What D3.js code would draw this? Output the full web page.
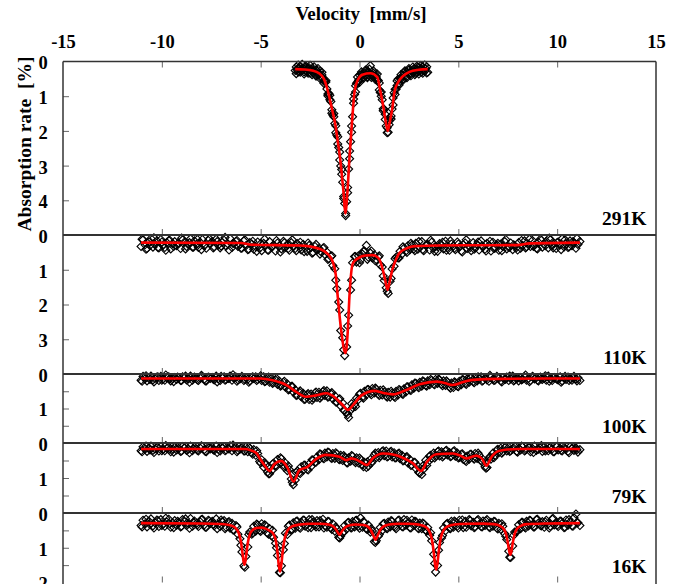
<!DOCTYPE html>
<html>
<head>
<meta charset="utf-8">
<script src="https://cdn.jsdelivr.net/npm/d3@7"></script>
<style>
  body { margin: 0; background: #fff; }
  svg { display: block; }
  text { font-family: "Liberation Serif", "Times New Roman", serif; font-weight: bold; fill: #000; }
</style>
</head>
<body>
<svg id="chart" width="682" height="584"></svg>
<script>
// ---- Mössbauer spectra at five temperatures ----
const velocityTicks = [-15, -10, -5, 0, 5, 10, 15];
const innerVelocityTicks = [-10, -5, 0, 5, 10];
const temperatures = ["291K", "110K", "100K", "79K", "16K"];
const absorptionMax = [5, 4, 2, 2, 2];
const absorptionTicks = [[1, 2, 3, 4], [1, 2, 3], [0.5, 1, 1.5], [0.5, 1, 1.5], [0.5, 1, 1.5]];
const absorptionLabels = [[0, 1, 2, 3, 4], [0, 1, 2, 3], [0, 1], [0, 1], [0, 1, 2]];

// first and last channel velocity [mm/s] of each sweep
const channelRangeA = [[-3.25, 3.45], [-11.05, 11.15], [-11.05, 11.15], [-11.05, 11.15], [-11.05, 11.15]];
const channelRangeB = [[-3.2, 3.4], [-11.0, 11.0], [-11.0, 11.0], [-11.0, 11.0], [-11.0, 11.0]];

// measured absorption [%] per channel, first sweep
const counts291 = [
0.26,0.16,0.24,0.30,0.19,0.13,0.28,0.23,0.19,0.30,
0.15,0.27,0.30,0.22,0.18,0.34,0.26,0.21,0.31,0.27,
0.37,0.24,0.28,0.38,0.36,0.28,0.46,0.39,0.48,0.57,
0.57,0.59,0.79,0.94,0.92,1.10,1.15,1.39,1.54,1.59,
1.79,1.85,2.12,2.38,2.48,2.61,3.01,3.25,3.48,3.89,
4.09,4.44,4.04,3.63,3.10,2.80,2.31,1.86,1.59,1.20,
0.95,0.70,0.63,0.60,0.54,0.39,0.51,0.37,0.39,0.45,
0.35,0.28,0.39,0.44,0.30,0.34,0.12,0.39,0.42,0.34,
0.43,0.35,0.45,0.53,0.55,0.62,0.89,1.00,1.10,1.36,
1.38,1.67,1.86,1.91,2.04,1.82,1.63,1.57,1.37,1.25,
0.90,0.80,0.80,0.69,0.51,0.62,0.49,0.50,0.53,0.40,
0.32,0.41,0.45,0.30,0.33,0.24,0.34,0.35,0.26,0.32,
0.21,0.29,0.34,0.23,0.16,0.29,0.25,0.19,0.30,0.15,
0.26,0.28,0.20,0.15,0.31];

const counts110 = [
0.33,0.14,0.28,0.39,0.20,0.10,0.35,0.27,0.17,0.37,
0.13,0.30,0.36,0.22,0.16,0.40,0.25,0.19,0.31,0.23,
0.39,0.14,0.20,0.33,0.28,0.11,0.35,0.17,0.27,0.36,
0.22,0.13,0.30,0.38,0.16,0.25,0.19,0.34,0.12,0.29,
0.37,0.21,0.15,0.32,0.26,0.10,0.36,0.24,0.18,0.33,
0.27,0.38,0.17,0.31,0.42,0.22,
0.26,0.41,0.33,0.20,0.38,0.45,0.24,0.30,0.43,0.19,
0.35,0.28,0.46,0.23,0.32,0.40,0.18,0.36,0.27,0.44,
0.22,0.34,0.39,0.25,0.31,
0.43,0.27,0.38,0.47,0.30,0.36,0.50,0.33,0.44,0.39,
0.48,0.38,0.56,0.49,0.68,0.62,0.88,0.97,1.55,1.93,
2.75,2.96,3.47,3.22,2.31,1.58,0.80,0.62,0.78,0.60,
0.72,0.55,0.46,0.30,0.64,0.52,0.66,0.57,0.71,0.63,
0.86,0.92,1.31,1.52,1.68,1.33,0.98,0.90,0.64,0.66,
0.47,0.55,0.38,0.46,0.31,0.42,0.29,0.40,
0.24,0.41,0.36,0.19,0.45,0.30,0.27,0.43,0.21,0.38,
0.33,0.47,0.25,0.29,0.40,0.18,0.36,0.44,0.26,0.32,
0.42,0.20,0.35,0.46,0.28,0.23,0.39,0.31,0.45,0.22,
0.37,0.27,0.43,0.17,0.34,0.41,0.24,0.30,0.46,0.21,
0.38,0.29,0.44,0.26,0.33,0.19,0.40,0.35,0.23,0.42,
0.31,0.36,
0.22,0.38,0.30,0.17,0.34,0.27,
0.33,0.16,0.29,0.38,0.21,0.12,0.35,0.26,0.18,0.37,
0.14,0.30,0.24,0.39,0.20,0.28,0.11,0.34,0.25,0.36,
0.17,0.31,0.22,0.38,0.27,0.19];

const counts100 = [
0.18,0.07,0.14,0.20,0.10,0.06,0.17,0.13,0.09,0.19,
0.07,0.15,0.18,0.11,0.08,0.20,0.13,0.10,0.16,0.12,
0.19,0.08,0.11,0.17,0.14,0.06,0.18,0.09,0.13,0.19,
0.12,0.07,0.15,0.20,0.09,0.13,0.10,0.17,0.06,0.14,
0.19,0.11,0.08,0.16,0.13,0.06,0.18,0.12,0.09,0.17,
0.14,0.07,0.19,0.11,0.15,0.20,0.10,0.13,0.08,0.16,
0.12,
0.19,0.08,0.21,0.13,0.24,0.12,0.25,0.17,0.30,0.21,
0.33,0.24,0.38,0.29,0.44,0.36,0.52,0.46,0.61,0.52,
0.66,0.56,0.73,0.60,0.74,0.58,0.70,0.55,0.68,0.53,
0.65,0.51,0.62,0.49,0.66,0.57,0.72,0.63,0.81,0.74,
0.93,0.84,1.06,1.12,1.26,1.05,0.97,0.88,0.70,0.74,
0.56,0.67,0.50,0.60,0.45,0.56,0.42,0.55,0.44,0.58,
0.47,0.61,0.52,0.64,0.53,0.67,0.55,0.65,0.50,0.61,
0.47,0.57,0.43,0.52,0.37,0.46,0.31,0.41,0.27,0.37,
0.24,0.35,0.22,0.33,0.20,0.31,0.18,0.29,0.16,0.27,
0.17,0.30,0.20,0.33,0.24,0.37,0.26,0.39,0.25,0.35,
0.21,0.31,0.17,0.27,0.14,0.24,0.11,0.22,
0.10,0.20,0.14,0.08,0.19,0.12,0.17,0.21,0.09,0.15,
0.18,0.07,0.13,0.20,0.11,0.16,0.09,0.19,0.14,0.06,
0.17,0.12,0.20,0.10,0.15,0.08,0.18,0.13,0.19,0.07,
0.14,0.11,0.20,0.09,0.16,0.12,0.18,0.06,0.15,0.19,
0.10,0.13,0.17,0.08,0.20,0.12,0.16,0.09,0.14,0.18,
0.07,0.15,0.11,0.19];

const counts79 = [
0.22,0.11,0.18,0.24,0.14,0.09,0.21,0.17,0.12,0.23,
0.10,0.19,0.22,0.15,0.11,0.25,0.17,0.13,0.20,0.16,
0.24,0.10,0.14,0.21,0.18,0.09,0.22,0.12,0.17,0.23,
0.15,0.10,0.19,0.25,0.12,0.17,0.13,0.21,0.09,0.18,
0.23,0.14,0.11,0.20,0.16,0.08,0.22,0.15,0.12,0.21,
0.18,0.13,
0.23,0.12,0.25,0.15,0.28,0.19,0.35,0.30,0.53,0.48,
0.69,0.62,0.83,0.88,0.79,0.58,0.64,0.47,0.58,0.45,
0.62,0.57,0.79,0.76,1.03,1.19,1.06,0.80,0.85,0.68,
0.78,0.64,0.75,0.60,0.67,0.49,0.55,0.40,0.48,0.33,
0.43,0.29,0.40,0.27,0.42,0.30,0.44,0.31,0.46,0.35,
0.50,0.41,0.56,0.42,0.52,0.38,0.53,0.42,0.57,0.47,
0.62,0.55,0.70,0.66,0.47,0.52,0.34,0.42,0.27,0.37,
0.24,0.36,0.23,0.38,0.26,0.40,0.28,0.42,0.31,0.45,
0.35,0.50,0.41,0.57,0.47,0.63,0.55,0.73,0.66,0.86,
0.90,0.74,0.49,0.55,0.37,0.44,0.29,0.38,0.25,0.37,
0.25,0.36,0.23,0.34,0.27,0.37,0.24,0.38,0.29,0.41,
0.32,0.47,0.50,0.37,0.46,0.32,0.43,0.30,0.44,0.35,
0.50,0.47,0.68,0.70,0.44,0.46,0.29,0.36,0.20,0.28,
0.15,0.25,0.13,0.23,
0.12,0.22,0.18,0.10,0.24,0.15,0.20,0.11,0.23,0.17,
0.13,0.25,0.16,0.09,0.21,0.18,0.14,0.24,0.11,0.19,
0.22,0.12,0.17,0.25,0.10,0.20,0.15,0.23,0.13,0.18,
0.24,0.11,0.16,0.21,0.14,0.26,0.19];

const counts16 = [
0.36,0.21,0.31,0.40,0.24,0.17,0.37,0.28,0.20,0.39,
0.19,0.33,0.38,0.26,0.18,0.41,0.29,0.22,0.35,0.27,
0.40,0.19,0.25,0.36,0.31,0.16,0.38,0.23,0.30,0.39,
0.26,0.18,0.34,0.41,0.21,0.30,0.24,0.37,0.17,0.33,
0.39,0.25,
0.22,0.41,0.27,0.44,0.30,0.49,0.36,0.61,0.74,1.12,
1.52,1.25,0.98,0.55,0.61,0.38,0.52,0.35,0.50,0.31,
0.47,0.36,0.58,0.45,0.66,0.70,0.87,1.22,1.71,1.52,
1.06,0.58,0.62,0.35,0.47,0.28,0.44,0.23,0.41,
0.27,0.20,0.38,0.33,0.19,0.42,0.26,0.35,0.22,0.40,0.29,0.18,0.37,
0.41,0.25,0.43,0.31,0.52,0.46,0.70,0.66,0.57,0.36,
0.46,0.27,0.42,0.25,0.40,0.21,0.38,0.14,0.41,0.27,
0.46,0.35,0.55,0.52,0.82,0.80,0.67,0.42,0.50,0.30,
0.44,0.26,
0.40,0.24,0.37,0.45,0.22,0.33,0.39,0.19,0.35,0.28,
0.42,0.20,0.36,0.25,0.43,0.29,0.45,0.31,0.50,0.42,
0.64,0.80,1.19,1.70,1.51,0.85,0.72,0.43,0.51,0.30,
0.44,0.24,0.41,0.26,
0.38,0.21,0.35,0.42,0.24,0.30,0.19,0.37,0.27,0.40,0.22,0.33,
0.39,0.23,0.36,0.19,0.40,0.27,0.38,0.25,0.43,0.30,
0.47,0.38,0.60,0.76,1.10,1.28,0.95,0.55,0.53,0.34,
0.45,0.27,0.40,0.24,
0.37,0.22,0.33,0.40,0.19,0.29,0.36,0.25,0.41,0.21,
0.31,0.38,0.17,0.34,0.27,0.39,0.23,0.30,0.42,0.20,
0.35,0.26,0.37,0.14,0.03,0.28,0.36];

// measured absorption [%] per channel, second sweep
const counts291b = [
0.35,0.10,0.31,0.08,0.36,0.14,0.34,0.11,0.38,0.15,
0.42,0.20,0.49,0.31,0.63,0.55,0.99,0.97,1.49,1.50,
2.05,2.17,2.84,3.11,3.95,4.38,3.78,2.58,2.04,1.08,
0.88,0.45,0.60,0.30,0.49,0.25,0.47,0.22,0.46,0.27,
0.52,0.36,0.82,0.88,1.42,1.52,2.05,1.70,1.66,1.05,
0.95,0.56,0.68,0.38,0.54,0.27,0.47,0.20,0.41,0.16,
0.38,0.14,0.36,0.12,0.34,0.10,0.33];

const counts110b = [
0.12,0.41,0.30,0.08,0.36,0.20,0.44,0.15,0.33,0.26,
0.09,0.40,0.22,0.35,0.13,0.42,0.28,0.11,0.37,0.19,
0.32,0.07,0.43,0.24,0.16,
0.38,0.14,0.41,
0.18,0.47,0.25,0.12,0.44,0.33,0.16,0.49,0.22,0.39,0.14,0.45,
0.21,
0.48,0.23,0.52,0.27,0.55,0.36,0.70,0.60,1.30,2.16,
3.30,2.62,1.30,0.62,0.80,0.47,0.70,0.46,0.74,0.60,
1.18,1.62,1.25,0.68,0.66,0.34,0.50,0.24,0.45,
0.19,0.42,0.28,0.15,0.47,0.33,0.21,0.44,0.17,0.38,
0.26,0.49,0.14,0.36,0.41,0.20,0.31,0.46,0.18,0.39,
0.24,0.45,0.13,0.35,0.28,0.43,0.16,0.37,0.12,0.33,
0.40,0.15,0.31,0.09,0.37,0.22,0.42,0.14,0.34,0.19,0.10];

const counts100b = [
0.21,0.05,0.16,0.23,0.08,0.18,0.03,0.14,0.22,0.09,
0.19,0.06,0.24,0.12,0.17,0.04,0.20,0.10,0.15,0.23,
0.07,0.18,0.13,0.02,0.21,0.11,0.16,0.24,0.08,0.19,
0.05,0.22,0.09,0.27,0.13,0.35,0.21,0.46,0.36,0.62,
0.49,0.74,0.57,0.76,0.52,0.70,0.48,0.67,0.54,0.81,
0.72,1.05,1.18,0.86,0.94,0.59,0.70,0.45,0.60,0.41,
0.62,0.46,0.67,0.50,0.68,0.45,0.59,0.37,0.48,0.26,
0.40,0.20,0.35,0.16,0.31,0.15,0.34,0.20,0.41,0.23,
0.37,0.16,0.30,0.11,0.25,
0.08,0.21,0.13,0.04,0.19,0.10,0.23,0.15,0.06,0.20,
0.12,0.17,0.03,0.22,0.09,0.18,0.14,0.05,0.21,0.11,
0.16,0.24,0.07,0.19,0.12,0.20];

const counts79b = [
0.25,0.09,0.20,0.27,0.12,0.22,0.07,0.18,0.26,0.13,
0.23,0.10,0.28,0.16,0.21,0.08,0.24,0.14,0.19,0.27,
0.11,0.22,0.17,0.06,0.25,0.15,
0.23,0.12,0.32,0.22,0.57,0.56,0.88,0.60,0.66,0.42,
0.70,0.66,1.12,0.84,0.87,0.63,0.77,0.48,0.55,0.31,
0.45,0.26,0.44,0.28,0.48,0.36,0.57,0.36,0.56,0.43,
0.68,0.54,0.57,0.29,0.42,0.22,0.40,0.24,0.43,0.29,
0.51,0.39,0.64,0.55,0.84,0.66,0.64,0.35,0.43,0.23,
0.40,0.21,0.39,0.22,0.43,0.31,0.53,0.32,0.46,0.29,
0.54,0.72,0.39,0.42,0.18,0.29,
0.11,0.24,0.15,0.26,0.09,0.20,0.13,0.27,0.18,0.07,
0.23,0.14,0.25,0.10,0.21,0.16,0.28,0.12,0.19];

const counts16b = [
0.40,0.18,0.33,0.43,0.22,0.36,0.15,0.31,0.42,0.24,
0.38,0.17,0.44,0.27,0.34,0.19,0.41,0.23,0.32,0.45,
0.20,0.45,0.25,0.49,0.40,0.93,1.56,0.62,0.58,0.32,
0.53,0.34,0.61,0.50,1.00,1.72,0.88,0.38,0.48,0.24,
0.44,0.21,0.42,0.19,0.40,0.22,0.43,0.24,0.47,0.40,
0.72,0.55,0.28,0.43,0.22,0.44,0.25,0.47,0.45,0.85,
0.62,0.31,0.45,0.22,0.41,0.20,0.40,0.21,0.43,0.24,
0.45,0.29,0.52,0.57,1.45,1.07,0.65,0.32,0.45,0.23,
0.43,0.20,0.41,0.22,0.42,0.19,0.40,0.23,0.42,0.24,
0.46,0.31,0.67,1.27,0.64,0.51,0.27,0.43,
0.21,0.40,0.18,0.37,0.26,0.43,0.16,0.35,0.24,0.41,
0.19,0.38,0.27];

// fitted curves: [velocity mm/s, absorption %]
const fit291 = [[-3.25,0.22],[-2.8,0.23],[-2.4,0.26],[-2.05,0.34],[-1.8,0.50],[-1.6,0.85],[-1.4,1.35],
  [-1.22,1.83],[-1.1,2.3],[-0.98,2.79],[-0.88,3.35],[-0.81,3.75],[-0.72,4.38],[-0.61,3.75],[-0.51,2.79],
  [-0.39,1.83],[-0.25,0.87],[-0.1,0.55],[0.15,0.38],[0.55,0.34],[0.9,0.45],[1.06,0.87],[1.22,1.35],
  [1.33,1.75],[1.43,2.0],[1.53,1.75],[1.66,1.35],[1.77,0.87],[1.95,0.6],[2.2,0.42],[2.53,0.30],
  [3.0,0.24],[3.45,0.22]];

const fit110 = [[-11.05,0.22],[-6.0,0.23],[-5.5,0.28],[-3.0,0.30],[-2.0,0.40],[-1.6,0.55],[-1.35,0.78],
  [-1.2,1.15],[-1.10,1.78],[-0.93,2.73],[-0.71,3.40],[-0.59,2.73],[-0.51,1.78],[-0.34,0.82],[-0.1,0.68],
  [0.3,0.59],[0.66,0.58],[0.95,0.66],[1.18,1.0],[1.30,1.3],[1.42,1.58],[1.54,1.3],[1.66,1.0],[1.85,0.70],
  [2.02,0.52],[2.4,0.38],[2.8,0.32],[4.0,0.30],[8.0,0.29],[8.6,0.24],[11.15,0.22]];

const fit100 = [[-11.05,0.13],[-5.0,0.13],[-4.4,0.18],[-3.7,0.32],[-3.2,0.52],[-2.7,0.66],[-2.2,0.62],
  [-1.69,0.56],[-1.2,0.70],[-0.85,0.90],[-0.59,1.04],[-0.3,0.88],[0.1,0.62],[0.76,0.49],[1.2,0.55],
  [1.69,0.59],[2.3,0.48],[3.04,0.30],[3.88,0.22],[4.3,0.26],[4.72,0.32],[5.2,0.24],[5.72,0.17],
  [7.0,0.14],[11.15,0.13]];

const fit79 = [[-11.05,0.17],[-5.8,0.17],[-5.5,0.21],[-5.2,0.30],[-5.0,0.48],[-4.75,0.68],[-4.56,0.80],
  [-4.3,0.60],[-3.97,0.51],[-3.63,0.72],[-3.34,1.10],[-3.04,0.78],[-2.63,0.68],[-2.2,0.46],[-1.69,0.34],
  [-1.01,0.39],[-0.67,0.49],[-0.4,0.44],[-0.25,0.46],[0.0,0.52],[0.37,0.63],[0.7,0.42],[1.18,0.30],
  [1.8,0.34],[2.19,0.42],[2.7,0.58],[3.12,0.80],[3.4,0.55],[3.88,0.32],[4.72,0.30],[5.1,0.36],
  [5.40,0.44],[5.91,0.36],[6.2,0.45],[6.41,0.65],[6.7,0.38],[7.09,0.22],[8.0,0.17],[11.15,0.17]];

const fit16 = [[-11.05,0.29],[-8.0,0.30],[-7.0,0.315],[-6.6,0.343],[-6.3,0.416],[-6.1,0.59],[-6.0,0.82],
  [-5.92,1.155],[-5.87,1.383],[-5.82,1.49],[-5.77,1.385],[-5.72,1.158],[-5.64,0.83],[-5.54,0.60],
  [-5.4,0.49],[-5.2,0.43],[-4.97,0.42],[-4.75,0.45],[-4.55,0.51],[-4.4,0.57],[-4.25,0.75],[-4.15,1.13],
  [-4.08,1.51],[-4.02,1.68],[-3.96,1.51],[-3.89,1.13],[-3.79,0.75],[-3.64,0.50],[-3.4,0.38],[-3.0,0.33],
  [-2.5,0.31],[-2.0,0.31],[-1.5,0.34],[-1.3,0.40],[-1.15,0.51],[-1.01,0.63],[-0.87,0.51],[-0.72,0.41],
  [-0.5,0.35],[-0.2,0.33],[0.2,0.345],[0.4,0.385],[0.55,0.47],[0.68,0.62],[0.81,0.77],[0.94,0.62],
  [1.07,0.47],[1.22,0.385],[1.5,0.33],[2.0,0.31],[2.5,0.31],[3.0,0.335],[3.3,0.385],[3.5,0.49],
  [3.65,0.73],[3.75,1.10],[3.82,1.47],[3.88,1.63],[3.94,1.47],[4.01,1.10],[4.11,0.73],[4.26,0.49],
  [4.46,0.385],[4.8,0.33],[5.5,0.31],[6.3,0.305],[6.8,0.32],[7.1,0.37],[7.3,0.46],[7.42,0.62],
  [7.52,0.91],[7.58,1.12],[7.63,1.20],[7.68,1.12],[7.74,0.91],[7.84,0.62],[7.96,0.46],[8.16,0.37],
  [8.46,0.32],[9.5,0.30],[11.15,0.29]];

const sweepsA = [counts291, counts110, counts100, counts79, counts16];
const sweepsB = [counts291b, counts110b, counts100b, counts79b, counts16b];
const fits = [fit291, fit110, fit100, fit79, fit16];

// ---- layout ----
const svg = d3.select("#chart");
const plotLeft = 63, plotRight = 656;
const panelEdges = [61.5, 235, 374, 443, 513, 582.5];
const axisColor = "#333";
const serif = '"Liberation Serif", "Times New Roman", serif';

const x = d3.scaleLinear().domain([-15, 15]).range([plotLeft, plotRight]);

// top velocity axis
const topAxis = svg.append("g")
  .attr("transform", `translate(0,${panelEdges[0]})`)
  .call(d3.axisTop(x).tickValues(velocityTicks).tickSizeInner(-6).tickSizeOuter(0).tickPadding(14));
topAxis.select(".domain").remove();
topAxis.selectAll(".tick line").attr("stroke", "#666")
  .filter(d => Math.abs(d) === 15).remove();
topAxis.selectAll(".tick text")
  .attr("font-size", 18.5).attr("fill", "#000")
  .attr("font-family", serif).attr("font-weight", "bold")
  .text(d => d < 0 ? "-" + Math.abs(d) : d);

svg.append("text").attr("x", 361).attr("y", 20).attr("text-anchor", "middle")
  .attr("font-size", 19).text("Velocity\u00a0\u00a0[mm/s]");

svg.append("text")
  .attr("transform", "translate(24,144) rotate(-90)")
  .attr("text-anchor", "middle").attr("dy", "0.35em")
  .attr("font-size", 19.5).text("Absorption rate\u00a0\u00a0[%]");

const marker = d3.symbol().type(d3.symbolSquare).size(32);

function drawPoints(g, counts, range, x, y) {
  const ch = d3.scaleLinear().domain([0, counts.length - 1]).range(range);
  g.append("g").selectAll("path").data(counts).join("path")
    .attr("d", marker)
    .attr("transform", (d, i) => `translate(${x(ch(i))},${y(d)}) rotate(45)`)
    .attr("fill", "none").attr("stroke", "#000").attr("stroke-width", 1.15);
}

sweepsA.forEach((counts, k) => {
  const top = panelEdges[k], bottom = panelEdges[k + 1];
  const y = d3.scaleLinear().domain([0, absorptionMax[k]]).range([top, bottom]);
  const g = svg.append("g");

  // velocity ticks on the lower edge, pointing up
  const ax = g.append("g").attr("transform", `translate(0,${bottom})`)
    .call(d3.axisBottom(x).tickValues(innerVelocityTicks).tickSizeInner(-6).tickSizeOuter(0).tickFormat(""));
  ax.select(".domain").remove();
  ax.selectAll(".tick line").attr("stroke", "#666");

  // absorption ticks along the left edge, pointing inward
  const ay = g.append("g").attr("transform", `translate(${plotLeft},0)`)
    .call(d3.axisRight(y).tickValues(absorptionTicks[k]).tickSizeInner(6).tickSizeOuter(0).tickFormat(""));
  ay.select(".domain").remove();
  ay.selectAll(".tick line").attr("stroke", "#666");

  g.selectAll("text.ylab").data(absorptionLabels[k]).join("text")
    .attr("class", "ylab")
    .attr("x", 43).attr("y", d => y(d) + 1.5)
    .attr("dy", "0.35em").attr("text-anchor", "middle")
    .attr("font-size", 18.5).text(d => d);

  // measured points (open diamonds), both sweeps
  drawPoints(g, counts, channelRangeA[k], x, y);
  drawPoints(g, sweepsB[k], channelRangeB[k], x, y);

  // fitted curve
  g.append("path").datum(fits[k])
    .attr("d", d3.line().x(d => x(d[0])).y(d => y(d[1])).curve(d3.curveMonotoneX))
    .attr("fill", "none").attr("stroke", "#ff0000").attr("stroke-width", 2.6);

  // temperature label
  g.append("text").attr("x", 646.5).attr("y", bottom - 10)
    .attr("text-anchor", "end").attr("font-size", 19.5).text(temperatures[k]);
});

// panel frame and dividers
const frame = svg.append("g").attr("stroke", axisColor).attr("fill", "none");
frame.append("line").attr("x1", plotLeft).attr("x2", plotLeft).attr("y1", panelEdges[0]).attr("y2", 584).attr("stroke-width", 1.5);
frame.append("line").attr("x1", plotRight).attr("x2", plotRight).attr("y1", panelEdges[0]).attr("y2", 584).attr("stroke-width", 1.5);
panelEdges.slice(0, 5).forEach((py, k) => {
  frame.append("line").attr("x1", plotLeft).attr("x2", plotRight).attr("y1", py).attr("y2", py)
    .attr("stroke-width", k === 0 ? 1.5 : 1.8);
});
</script>
</body>
</html>
